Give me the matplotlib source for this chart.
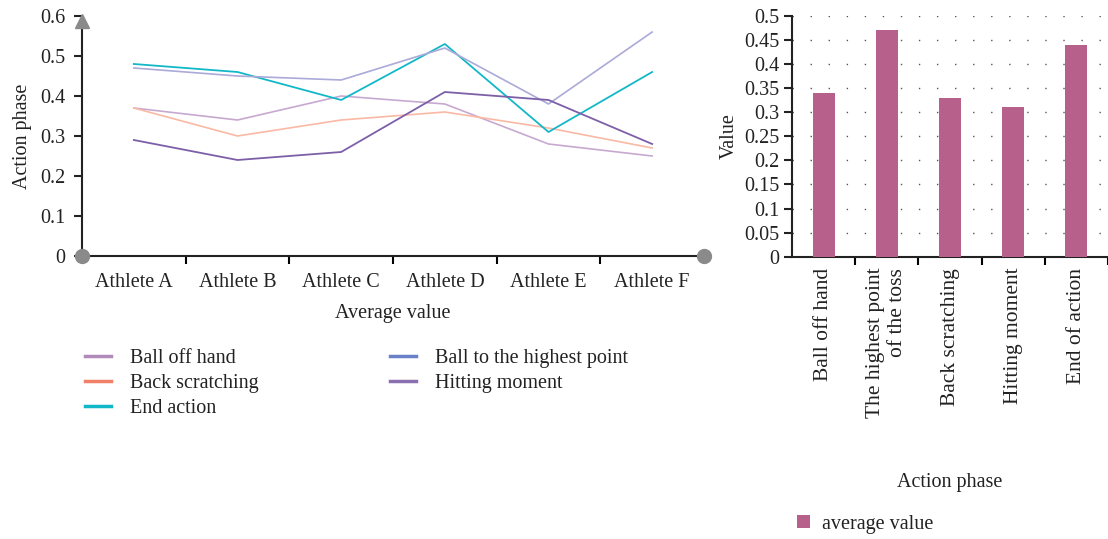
import matplotlib
matplotlib.use("Agg")
import matplotlib.pyplot as plt
from matplotlib.lines import Line2D
from matplotlib.ticker import FixedLocator, FuncFormatter
import numpy as np

plt.rcParams['font.family'] = ['Liberation Serif', 'DejaVu Serif']
plt.rcParams['font.size'] = 14.5

# left chart data
athletes = ["Athlete A", "Athlete B", "Athlete C", "Athlete D", "Athlete E", "Athlete F"]
ball_off_hand = [0.37, 0.34, 0.40, 0.38, 0.28, 0.25]
ball_highest = [0.47, 0.45, 0.44, 0.52, 0.38, 0.56]
back_scratching = [0.37, 0.30, 0.34, 0.36, 0.32, 0.27]
hitting_moment = [0.29, 0.24, 0.26, 0.41, 0.39, 0.28]
end_action = [0.48, 0.46, 0.39, 0.53, 0.31, 0.46]

# right chart data
phases = ["Ball off hand", "The highest point\nof the toss", "Back scratching",
          "Hitting moment", "End of action"]
avg_values = [0.34, 0.47, 0.33, 0.31, 0.44]

fig = plt.figure(figsize=(11.08, 5.39), dpi=100)
txt = '#222222'

# ---------------- left line chart
ax = fig.add_axes([82/1108, 1-256/539, (704-82)/1108, (256-16)/539])
x = np.arange(len(athletes))

series = [
    ("Ball off hand", ball_off_hand, "#c7a9d0", "#b08ab8", 1.2),
    ("Back scratching", back_scratching, "#f9b9a4", "#f08068", 1.2),
    ("End action", end_action, "#12b8c8", "#10b8c8", 1.3),
    ("Ball to the highest point", ball_highest, "#abaad8", "#6a80c8", 1.2),
    ("Hitting moment", hitting_moment, "#7d5fa8", "#8a70b0", 1.3),
]
handles = []
for name, vals, lc, hc, lw in series:
    ax.plot(x, vals, color=lc, lw=lw)
    handles.append(Line2D([0], [0], color=hc, lw=2.5, label=name))

ax.set_xlim(-0.5, 5.5)
ax.set_ylim(0, 0.6)
ax.set_yticks(np.arange(0, 0.61, 0.1))
ax.yaxis.set_major_formatter(FuncFormatter(lambda v, p: "0" if v == 0 else f"{v:.1f}"))
ax.set_xticks(x)
ax.set_xticklabels(athletes)
ax.xaxis.set_minor_locator(FixedLocator(np.arange(0.5, 5, 1)))
ax.tick_params(axis='x', which='major', length=0, pad=12, colors=txt)
ax.tick_params(axis='x', which='minor', length=6, width=1.5, direction='out')
ax.tick_params(axis='y', length=6, width=1.5, direction='out', colors=txt, pad=6)
for s in ["top", "right"]:
    ax.spines[s].set_visible(False)
for s in ["left", "bottom"]:
    ax.spines[s].set_linewidth(1.5)
    ax.spines[s].set_color(txt)
ax.spines['left'].set_bounds(0, 0.585)
ax.set_ylabel("Action phase", labelpad=6, color=txt)
ax.set_xlabel("Average value", labelpad=9, color=txt)

# axis decorations: arrow head on top, dots at the ends
ax.plot(-0.5, 0.588, marker='^', ms=10, color='#8a8a8a', clip_on=False, zorder=5)
ax.plot(-0.5, 0, marker='o', ms=10, color='#8a8a8a', clip_on=False, zorder=5)
ax.plot(5.5, 0, marker='o', ms=10, color='#8a8a8a', clip_on=False, zorder=5)

leg = fig.legend(handles=handles, ncol=2, loc='upper left',
                 bbox_to_anchor=(75/1108, 1-339/539), frameon=False,
                 handlelength=1.3, handletextpad=0.95, labelspacing=0.3,
                 columnspacing=6.5, borderpad=0, fontsize=14.5)
for t in leg.get_texts():
    t.set_color(txt)

# ---------------- right bar chart
bx = fig.add_axes([792/1108, 1-256.7/539, (1108-792)/1108, (256.7-16)/539])
xb = np.arange(len(phases))
bx.bar(xb, avg_values, width=0.35, color="#b8608c", label="average value", zorder=3)
bx.set_xlim(-0.5, 4.5)
bx.set_ylim(0, 0.5)
yt = np.round(np.arange(0, 0.501, 0.05), 2)
bx.set_yticks(yt)
bx.yaxis.set_major_formatter(FuncFormatter(lambda v, p: "0" if abs(v) < 1e-9 else f"{v:.2f}".rstrip('0')))
bx.yaxis.grid(True, linestyle=(0, (1, 12)), color='#555555', lw=1.0, zorder=0)
bx.set_xticks(xb)
bx.set_xticklabels(phases, rotation=90, multialignment='right', fontsize=15.5)
bx.xaxis.set_minor_locator(FixedLocator(np.arange(0.5, 5, 1)))
bx.tick_params(axis='x', which='major', length=0, pad=8, colors=txt)
bx.tick_params(axis='x', which='minor', length=6, width=1.5, direction='out')
bx.tick_params(axis='y', length=6, width=1.5, direction='out', colors=txt, pad=3)
for s in ["top", "right"]:
    bx.spines[s].set_visible(False)
for s in ["left", "bottom"]:
    bx.spines[s].set_linewidth(1.5)
    bx.spines[s].set_color(txt)
bx.set_ylabel("Value", labelpad=4, color=txt)
fig.text(950/1108, 1-483/539, "Action phase", ha='center', va='center', color=txt)
bleg = bx.legend(loc='center left', bbox_to_anchor=(787/1108, 1-524/539),
                 bbox_transform=fig.transFigure, frameon=False, handlelength=0.65,
                 handleheight=0.65, handletextpad=0.6, borderpad=0, fontsize=14.5)
for t in bleg.get_texts():
    t.set_color(txt)

fig.savefig("out.png", dpi=100)
